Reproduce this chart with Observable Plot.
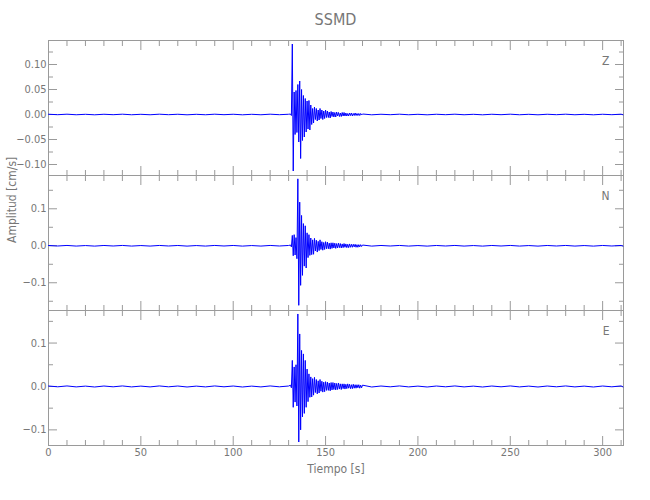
<!DOCTYPE html>
<html>
<head>
<meta charset="utf-8">
<script src="https://cdn.jsdelivr.net/npm/d3@7"></script>
<script src="https://cdn.jsdelivr.net/npm/@observablehq/plot@0.6"></script>
<style>
  body { margin: 0; background: #fff; }
  #chart { position: relative; width: 650px; height: 500px; font-family: "DejaVu Sans Condensed", "DejaVu Sans", sans-serif; }
  #title { position: absolute; left: 48px; width: 575px; top: 10px; line-height: 20px; text-align: center; font-size: 16px; color: #777; }
</style>
</head>
<body>
<div id="chart"><div id="title"></div></div>
<script>
// ---- Data ----
const title = "SSMD";
const channels = ["Z", "N", "E"];

// time samples [s]
const tPre = [0,5,10,15,20,25,30,35,40,45,50,55,60,65,70,75,80,85,90,95,100,105,110,115,120,125,130];
const tEvent = [
  131,131.5,132,132.5,133,133.5,134,134.5,135,135.5,
  136,136.5,137,137.5,138,138.5,139,139.5,140,140.5,
  141,141.5,142,142.5,143,143.5,144,144.5,145,145.5,
  146,146.5,147,147.5,148,148.5,149,149.5,150,150.5,
  151,151.5,152,152.5,153,153.5,154,154.5,155,155.5,
  156,156.5,157,157.5,158,158.5,159,159.5,160,160.5,
  161,161.5,162,162.5,163,163.5,164,164.5,165,165.5,
  166,166.5,167,167.5,168,168.5,169,169.5,170
];
const tPost = [175,180,185,190,195,200,205,210,215,220,225,230,235,240,245,250,255,260,265,270,275,280,285,290,295,300,305,310,311];

// Z component amplitude [cm/s]
const zPre = [0.0005,-0.0004,0.0006,-0.0005,0.0004,-0.0006,0.0005,-0.0004,0.0006,-0.0005,0.0004,-0.0005,0.0006,-0.0004,0.0005,-0.0006,0.0004,-0.0005,0.0006,-0.0004,0.0005,-0.0006,0.0004,-0.0005,0.0006,-0.0004,0.0005];
const zEvent = [
  0.001,-0.002,0.141,-0.113,0.045,-0.040,0.048,-0.036,0.060,-0.055,
  0.067,-0.088,0.050,-0.052,0.038,-0.045,0.032,-0.035,0.027,-0.029,
  0.028,-0.031,0.019,-0.020,0.012,-0.017,0.015,-0.010,0.012,-0.013,
  0.009,-0.011,0.012,-0.008,0.009,-0.010,0.007,-0.008,0.009,-0.006,
  0.007,-0.006,0.005,-0.007,0.006,-0.004,0.005,-0.005,0.004,-0.005,
  0.005,-0.003,0.004,-0.004,0.003,-0.004,0.004,-0.003,0.004,-0.003,
  0.003,-0.003,0.002,-0.003,0.003,-0.002,0.003,-0.003,0.002,-0.002,
  0.003,-0.002,0.002,-0.002,0.002,-0.002,0.002,-0.001,0.001
];
const zPost = [-0.0006,0.0005,-0.0004,0.0006,-0.0005,0.0004,-0.0006,0.0005,-0.0004,0.0006,-0.0005,0.0004,-0.0006,0.0005,-0.0004,0.0006,-0.0005,0.0004,-0.0006,0.0005,-0.0004,0.0006,-0.0005,0.0004,-0.0006,0.0005,-0.0004,0.0006,-0.0005];

// N component
const nPre = [0.0008,-0.0006,0.0009,-0.0008,0.0006,-0.0009,0.0008,-0.0006,0.0009,-0.0008,0.0006,-0.0008,0.0009,-0.0006,0.0008,-0.0009,0.0006,-0.0008,0.0009,-0.0006,0.0008,-0.0009,0.0006,-0.0008,0.0009,-0.0006,0.0008];
const nEvent = [
  0.002,-0.003,0.028,-0.027,0.030,-0.025,0.022,-0.035,0.181,-0.161,
  0.118,-0.107,0.082,-0.080,0.060,-0.055,0.054,-0.060,0.035,-0.032,
  0.030,-0.026,0.021,-0.024,0.016,-0.023,0.020,-0.014,0.015,-0.017,
  0.012,-0.013,0.016,-0.010,0.011,-0.012,0.009,-0.010,0.011,-0.008,
  0.010,-0.008,0.007,-0.009,0.008,-0.007,0.008,-0.006,0.007,-0.007,
  0.006,-0.006,0.007,-0.005,0.006,-0.006,0.005,-0.005,0.006,-0.004,
  0.005,-0.005,0.004,-0.005,0.005,-0.004,0.004,-0.004,0.004,-0.003,
  0.004,-0.004,0.003,-0.004,0.003,-0.003,0.003,-0.002,0.002
];
const nPost = [-0.0009,0.0008,-0.0006,0.0009,-0.0008,0.0006,-0.0009,0.0008,-0.0006,0.0009,-0.0008,0.0006,-0.0009,0.0008,-0.0006,0.0009,-0.0008,0.0006,-0.0009,0.0008,-0.0006,0.0009,-0.0008,0.0006,-0.0009,0.0008,-0.0006,0.0009,-0.0008];

// E component
const ePre = [0.001,-0.0008,0.0012,-0.001,0.0008,-0.0012,0.001,-0.0008,0.0012,-0.001,0.0008,-0.001,0.0012,-0.0008,0.001,-0.0012,0.0008,-0.001,0.0012,-0.0008,0.001,-0.0012,0.0008,-0.001,0.0012,-0.0008,0.001];
const eEvent = [
  0.003,-0.003,0.060,-0.048,0.045,-0.036,0.050,-0.045,0.167,-0.128,
  0.121,-0.100,0.083,-0.070,0.075,-0.062,0.060,-0.048,0.040,-0.035,
  0.029,-0.025,0.022,-0.024,0.018,-0.020,0.021,-0.014,0.016,-0.017,
  0.013,-0.015,0.016,-0.011,0.012,-0.013,0.010,-0.012,0.011,-0.009,
  0.010,-0.009,0.008,-0.010,0.009,-0.008,0.009,-0.007,0.008,-0.008,
  0.007,-0.007,0.008,-0.006,0.006,-0.007,0.006,-0.005,0.006,-0.006,
  0.005,-0.005,0.006,-0.004,0.005,-0.005,0.004,-0.005,0.005,-0.004,
  0.004,-0.004,0.004,-0.003,0.004,-0.004,0.003,-0.003,0.003
];
const ePost = [-0.0012,0.001,-0.0008,0.0012,-0.001,0.0008,-0.0012,0.001,-0.0008,0.0012,-0.001,0.0008,-0.0012,0.001,-0.0008,0.0012,-0.001,0.0008,-0.0012,0.001,-0.0008,0.0012,-0.001,0.0008,-0.0012,0.001,-0.0008,0.0012,-0.001];

// axes
const xDomain = [0, 311.3];
const xMajor = [0, 50, 100, 150, 200, 250, 300];
const xMinor = [10,20,30,40,60,70,80,90,110,120,130,140,160,170,180,190,210,220,230,240,260,270,280,290,310];
const zDomain = [-0.122, 0.148];
const zMajor = [-0.10, -0.05, 0, 0.05, 0.10];
const zMinor = [-0.075, -0.025, 0.025, 0.075, 0.125];
const nDomain = [-0.175, 0.19];
const nMajor = [-0.1, 0, 0.1];
const nMinor = [-0.15, -0.05, 0.05, 0.15];
const eDomain = [-0.136, 0.175];
const eMajor = [-0.1, 0, 0.1];
const eMinor = [-0.05, 0.05, 0.15];
const xLabel = "Tiempo [s]";
const yLabel = "Amplitud [cm/s]";

// ---- Build ----
const times = tPre.concat(tEvent, tPost);
function series(pre, ev, post) {
  const v = pre.concat(ev, post);
  return times.map((t, i) => ({t, v: v[i]})).filter(d => d.v !== undefined);
}
const GRAY = "#9a9a9a";
const TEXT = "#777";
const FONT = '"DejaVu Sans Condensed", "DejaVu Sans", sans-serif';

function panel({data, domain, major, minor, fmt, name, top, mT, mB, bottom, ylab}) {
  const marks = [
    Plot.frame({stroke: GRAY}),
    Plot.axisX({ticks: xMajor, anchor: "top", tickSize: -9, tickFormat: () => "", stroke: GRAY, label: null}),
    Plot.axisX({ticks: xMinor, anchor: "top", tickSize: -5, tickFormat: () => "", stroke: GRAY, label: null}),
    Plot.axisX({ticks: xMajor, anchor: "bottom", tickSize: -9, tickFormat: () => "", stroke: GRAY, label: null}),
    Plot.axisX({ticks: xMinor, anchor: "bottom", tickSize: -5, tickFormat: () => "", stroke: GRAY, label: null}),
    Plot.axisY({ticks: major, anchor: "left", tickSize: -9, tickFormat: () => "", stroke: GRAY, label: null}),
    Plot.axisY({ticks: minor, anchor: "left", tickSize: -5, tickFormat: () => "", stroke: GRAY, label: null}),
    Plot.axisY({ticks: major, anchor: "right", tickSize: -9, tickFormat: () => "", stroke: GRAY, label: null}),
    Plot.axisY({ticks: minor, anchor: "right", tickSize: -5, tickFormat: () => "", stroke: GRAY, label: null}),
    Plot.axisY({ticks: major, anchor: "left", tickSize: 0, tickPadding: 2, tickFormat: d3.format(fmt), color: TEXT, fontSize: 11, label: null}),
    Plot.line(data, {x: "t", y: "v", stroke: "#0000ff", strokeWidth: 1}),
    Plot.text([name], {frameAnchor: "top-right", dx: -14, dy: 21, text: d => d, fill: TEXT, fontSize: 12, lineAnchor: "middle", textAnchor: "end"})
  ];
  if (bottom) {
    marks.push(Plot.axisX({ticks: xMajor, anchor: "bottom", tickSize: 0, tickPadding: 3, color: TEXT, fontSize: 11, label: null}));
    marks.push(Plot.text([xLabel], {frameAnchor: "bottom", dy: 24, text: d => d, fill: TEXT, fontSize: 12, lineAnchor: "middle"}));
  }
  if (ylab) {
    marks.push(Plot.text([yLabel], {frameAnchor: "left", dx: -36, rotate: -90, text: d => d, fill: TEXT, fontSize: 12}));
  }
  const svg = Plot.plot({
    width: 650,
    height: 135 + mT + mB,
    marginLeft: 48, marginRight: 27, marginTop: mT, marginBottom: mB,
    x: {domain: xDomain},
    y: {domain},
    style: {background: "transparent", fontFamily: FONT, overflow: "visible"},
    marks
  });
  svg.style.position = "absolute";
  svg.style.top = top + "px";
  svg.style.left = "0px";
  document.getElementById("chart").appendChild(svg);
}

document.getElementById("title").textContent = title;
panel({data: series(zPre, zEvent, zPost), domain: zDomain, major: zMajor, minor: zMinor, fmt: ".2f", name: channels[0], top: 30, mT: 10, mB: 10});
panel({data: series(nPre, nEvent, nPost), domain: nDomain, major: nMajor, minor: nMinor, fmt: ".1f", name: channels[1], top: 165, mT: 10, mB: 10, ylab: true});
panel({data: series(ePre, eEvent, ePost), domain: eDomain, major: eMajor, minor: eMinor, fmt: ".1f", name: channels[2], top: 300, mT: 10, mB: 45, bottom: true});
</script>
</body>
</html>
